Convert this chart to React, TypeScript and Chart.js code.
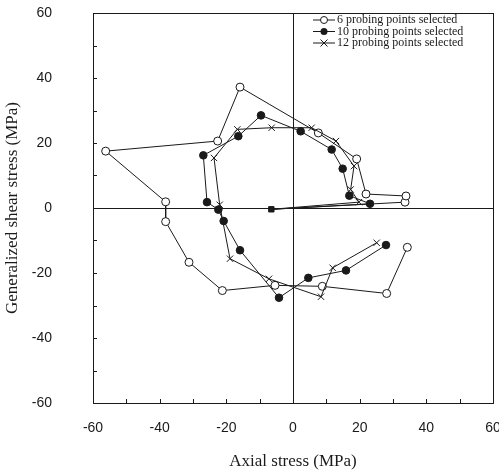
import React, { useEffect, useRef } from "react";
import { Chart, registerables } from "chart.js";

Chart.register(...registerables);

// ---- Data ----
const sixX = [-6.5, 33.6, 33.9, 21.9, 19.1, 7.6, -15.9, -22.6, -56.2, -38.2, -38.2, -31.2, -21.2, -5.4, 8.8, 28.1, 34.3];
const sixY = [-0.4, 1.8, 3.7, 4.3, 15.1, 23.1, 37.2, 20.6, 17.5, 1.9, -4.2, -16.7, -25.4, -23.8, -24.1, -26.3, -12.1];

const tenX = [-6.5, 23.1, 16.9, 14.9, 11.6, 2.3, -9.6, -16.4, -26.9, -25.8, -22.4, -20.8, -15.9, -4.2, 4.6, 15.9, 27.9];
const tenY = [-0.4, 1.3, 3.8, 12.1, 18.0, 23.6, 28.5, 22.1, 16.2, 1.8, -0.5, -4.0, -13.0, -27.6, -21.5, -19.2, -11.4];

const twelveX = [-6.5, 19.8, 17.3, 18.3, 12.9, 5.6, -6.4, -16.7, -23.7, -22.0, -18.9, -7.2, 8.4, 11.9, 25.1];
const twelveY = [-0.4, 1.8, 5.7, 12.9, 20.6, 24.7, 24.7, 24.2, 15.4, 1.0, -15.6, -21.8, -27.3, -18.4, -10.7];

const seriesLabels = [
  "6 probing points selected",
  "10 probing points selected",
  "12 probing points selected",
];

const axisMin = -60;
const axisMax = 60;
const labelStep = 20;
const minorStep = 10;

const xTitle = "Axial stress (MPa)";
const yTitle = "Generalized shear stress (MPa)";

const INK = "#1a1a1a";

const toPoints = (xs: number[], ys: number[]) => xs.map((x, i) => ({ x, y: ys[i] }));

const framePlugin = {
  id: "framePlugin",
  beforeDatasetsDraw(chart: any) {
    const { ctx, chartArea: a, scales } = chart;
    const xs = scales.x;
    const ys = scales.y;
    ctx.save();
    ctx.strokeStyle = INK;
    ctx.lineWidth = 1;
    ctx.strokeRect(a.left + 0.5, a.top + 0.5, a.right - a.left, a.bottom - a.top);
    // zero lines
    const x0 = Math.round(xs.getPixelForValue(0)) + 0.5;
    const y0 = Math.round(ys.getPixelForValue(0)) + 0.5;
    ctx.beginPath();
    ctx.moveTo(x0, a.top);
    ctx.lineTo(x0, a.bottom);
    ctx.moveTo(a.left, y0);
    ctx.lineTo(a.right, y0);
    ctx.stroke();
    // inward minor ticks
    ctx.beginPath();
    for (let v = axisMin; v <= axisMax; v += minorStep) {
      const px = Math.round(xs.getPixelForValue(v)) + 0.5;
      ctx.moveTo(px, a.bottom);
      ctx.lineTo(px, a.bottom - 4);
      const py = Math.round(ys.getPixelForValue(v)) + 0.5;
      ctx.moveTo(a.left, py);
      ctx.lineTo(a.left + 4, py);
    }
    ctx.stroke();
    ctx.restore();
  },
  afterDatasetsDraw(chart: any) {
    const { ctx, chartArea: a } = chart;
    const styles = ["circle", "filled", "cross"];
    ctx.save();
    ctx.font = "12px 'Liberation Serif'";
    ctx.fillStyle = INK;
    ctx.strokeStyle = INK;
    ctx.lineWidth = 1;
    ctx.textBaseline = "middle";
    seriesLabels.forEach((label, i) => {
      const y = a.top + 7 + i * 11.5;
      const x1 = a.right - 180;
      const x2 = a.right - 158;
      const cx = (x1 + x2) / 2;
      ctx.beginPath();
      ctx.moveTo(x1, y);
      ctx.lineTo(x2, y);
      ctx.stroke();
      if (styles[i] === "circle") {
        ctx.beginPath();
        ctx.arc(cx, y, 3.5, 0, Math.PI * 2);
        ctx.fillStyle = "#fff";
        ctx.fill();
        ctx.stroke();
      } else if (styles[i] === "filled") {
        ctx.beginPath();
        ctx.arc(cx, y, 3.5, 0, Math.PI * 2);
        ctx.fillStyle = INK;
        ctx.fill();
      } else {
        ctx.beginPath();
        ctx.moveTo(cx - 3.5, y - 3.5);
        ctx.lineTo(cx + 3.5, y + 3.5);
        ctx.moveTo(cx + 3.5, y - 3.5);
        ctx.lineTo(cx - 3.5, y + 3.5);
        ctx.stroke();
      }
      ctx.fillStyle = INK;
      ctx.fillText(label, x2 + 2, y);
    });
    ctx.restore();
  },
};

export default function App() {
  const canvasRef = useRef<HTMLCanvasElement | null>(null);

  useEffect(() => {
    const canvas = canvasRef.current;
    if (!canvas) return;
    const tickFont = { family: "'Liberation Sans', Arial, sans-serif", size: 14 };
    const titleFont = { family: "'Liberation Serif', 'Times New Roman', serif", size: 17 };

    const chart = new Chart(canvas, {
      type: "scatter",
      data: {
        datasets: [
          {
            label: seriesLabels[0],
            data: toPoints(sixX, sixY),
            showLine: true,
            borderColor: INK,
            borderWidth: 1,
            pointStyle: "circle",
            pointRadius: sixX.map((_, i) => (i === 0 ? 0 : 4)),
            pointBackgroundColor: "#fff",
            pointBorderColor: INK,
            pointBorderWidth: 1,
            order: 3,
          },
          {
            label: seriesLabels[1],
            data: toPoints(tenX, tenY),
            showLine: true,
            borderColor: INK,
            borderWidth: 1,
            pointStyle: tenX.map((_, i) => (i === 0 ? "rect" : "circle")),
            pointRadius: 3.8,
            pointBackgroundColor: INK,
            pointBorderColor: INK,
            pointBorderWidth: 1,
            order: 1,
          },
          {
            label: seriesLabels[2],
            data: toPoints(twelveX, twelveY),
            showLine: true,
            borderColor: INK,
            borderWidth: 1,
            pointStyle: "crossRot",
            pointRadius: twelveX.map((_, i) => (i === 0 ? 0 : 4.5)),
            pointBorderColor: INK,
            pointBorderWidth: 1,
            order: 2,
          },
        ],
      },
      options: {
        animation: false,
        responsive: false,
        devicePixelRatio: 1,
        layout: { padding: { left: 0, right: 6, top: 13, bottom: 0 } },
        plugins: {
          legend: { display: false },
          tooltip: { enabled: false },
        },
        scales: {
          x: {
            type: "linear",
            min: axisMin,
            max: axisMax,
            grid: { display: false, drawTicks: false },
            border: { display: false },
            ticks: { stepSize: labelStep, color: INK, font: tickFont, padding: 17 },
            title: { display: true, text: xTitle, color: INK, font: titleFont, padding: { top: 0, bottom: 1 } },
            afterFit(scale: any) {
              scale.height = 70;
              scale.paddingLeft = 0;
              scale.paddingRight = 0;
            },
          },
          y: {
            type: "linear",
            min: axisMin,
            max: axisMax,
            grid: { display: false, drawTicks: false },
            border: { display: false },
            ticks: { stepSize: labelStep, color: INK, font: tickFont, padding: 41 },
            title: { display: true, text: yTitle, color: INK, font: titleFont, padding: { top: 2, bottom: 0 } },
            afterFit(scale: any) {
              scale.width = 93;
              scale.paddingTop = 0;
              scale.paddingBottom = 0;
            },
          },
        },
      },
      plugins: [framePlugin],
    });
    return () => chart.destroy();
  }, []);

  return (
    <div style={{ position: "absolute", left: 0, top: 0, width: 499, height: 473, background: "#fff" }}>
      <canvas ref={canvasRef} width={499} height={473} style={{ display: "block" }} />
    </div>
  );
}
